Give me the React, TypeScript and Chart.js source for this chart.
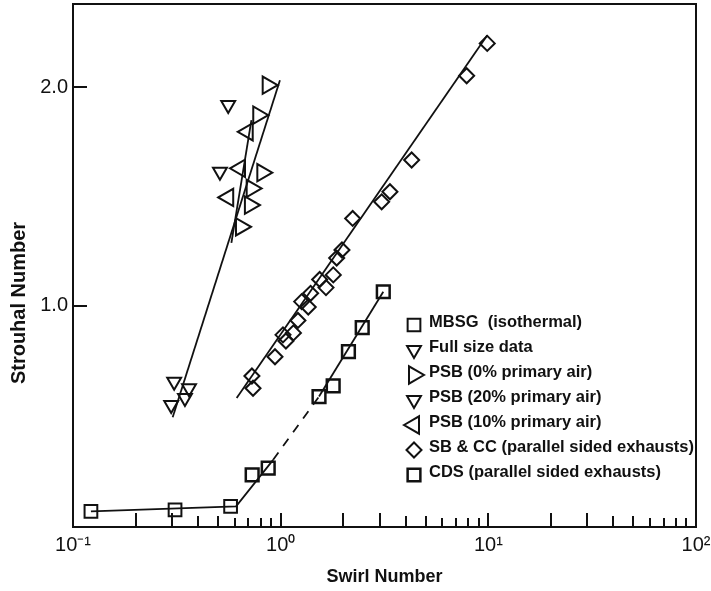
import React, { useEffect, useRef } from 'react';
import { Chart, registerables } from 'chart.js';
import { drawPoint } from 'chart.js/helpers';

Chart.register(...registerables);

// ---- data ----
const mbsgX = [0.122, 0.31, 0.574];
const mbsgY = [0.061, 0.068, 0.084];

const fullSizeX = [0.307, 0.297, 0.362, 0.346];
const fullSizeY = [0.654, 0.548, 0.624, 0.579];

const psb0X = [0.866, 0.78, 0.816, 0.725, 0.711, 0.644];
const psb0Y = [2.009, 1.872, 1.609, 1.537, 1.461, 1.362];

const psb20X = [0.559, 0.51];
const psb20Y = [1.918, 1.613];

const psb10X = [0.694, 0.637, 0.559];
const psb10Y = [1.796, 1.629, 1.496];

const sbccX = [0.727, 0.736, 0.939, 1.026, 1.06, 1.152, 1.211, 1.262, 1.358, 1.394, 1.541, 1.653, 1.792, 1.861, 1.973, 2.222, 3.064, 3.359, 4.273, 7.864, 9.88];
const sbccY = [0.68, 0.624, 0.768, 0.868, 0.84, 0.877, 0.934, 1.02, 0.995, 1.058, 1.121, 1.084, 1.142, 1.219, 1.256, 1.4, 1.476, 1.522, 1.667, 2.052, 2.2];

const cdsX = [0.729, 0.871, 1.53, 1.79, 2.12, 2.47, 3.12];
const cdsY = [0.228, 0.259, 0.586, 0.635, 0.791, 0.901, 1.065];

// fitted lines
const fitTriLongX = [0.302, 0.992];
const fitTriLongY = [0.492, 2.032];
const fitTriShortX = [0.579, 0.723];
const fitTriShortY = [1.288, 1.849];
const fitDiamondX = [0.614, 9.88];
const fitDiamondY = [0.579, 2.237];
const fitSquareX = [0.122, 0.61, 0.92, 1.53, 3.12];
const fitSquareY = [0.061, 0.084, 0.297, 0.586, 1.065];
const fitSquareDashedSegment = 2;

const xTickValues = [0.1, 1, 10, 100];
const xTickLabels = ['10\u207B\u00B9', '10\u2070', '10\u00B9', '10\u00B2'];
const yTickValues = [1, 2];
const yTickLabels = ['1.0', '2.0'];

const seriesLabels = [
  'MBSG  (isothermal)',
  'Full size data',
  'PSB (0% primary air)',
  'PSB (20% primary air)',
  'PSB (10% primary air)',
  'SB & CC (parallel sided exhausts)',
  'CDS (parallel sided exhausts)',
];

const xTitle = 'Swirl Number';
const yTitle = 'Strouhal Number';

const zip = (xs: number[], ys: number[]) => xs.map((x, i) => ({ x, y: ys[i] }));

const FONT = "'Liberation Sans', Arial, Helvetica, sans-serif";

type MarkerStyle = { pointStyle: string; rotation: number; radius: number; lw: number };
const markerStyles: MarkerStyle[] = [
  { pointStyle: 'rect', rotation: 0, radius: 9, lw: 2 },
  { pointStyle: 'triangle', rotation: 180, radius: 8, lw: 2 },
  { pointStyle: 'triangle', rotation: 90, radius: 10, lw: 2 },
  { pointStyle: 'triangle', rotation: 180, radius: 8, lw: 2 },
  { pointStyle: 'triangle', rotation: 270, radius: 10, lw: 2 },
  { pointStyle: 'rectRot', rotation: 0, radius: 7.5, lw: 2 },
  { pointStyle: 'rect', rotation: 0, radius: 9, lw: 2.5 },
];

const frameAndTicks = {
  id: 'frameAndTicks',
  afterDraw(chart: any) {
    const { ctx, chartArea: a, scales } = chart;
    const xs = scales.x;
    const ys = scales.y;
    ctx.save();
    ctx.strokeStyle = '#111';
    ctx.lineWidth = 2;
    ctx.strokeRect(a.left, a.top, a.right - a.left, a.bottom - a.top);
    ctx.beginPath();
    for (let k = -1; k <= 1; k++) {
      for (let m = 1; m <= 9; m++) {
        if (k === -1 && m === 1) continue;
        const v = m * Math.pow(10, k);
        const px = Math.round(xs.getPixelForValue(v));
        const len = m <= 3 ? 14 : m <= 5 ? 11 : 9;
        ctx.moveTo(px, a.bottom);
        ctx.lineTo(px, a.bottom - len);
      }
    }
    yTickValues.forEach((v) => {
      const py = Math.round(ys.getPixelForValue(v));
      ctx.moveTo(a.left, py);
      ctx.lineTo(a.left + 14, py);
    });
    ctx.stroke();

    // y axis title
    ctx.fillStyle = '#111';
    ctx.font = `bold 20px ${FONT}`;
    ctx.textAlign = 'center';
    ctx.textBaseline = 'middle';
    ctx.translate(19, 303);
    ctx.rotate(-Math.PI / 2);
    ctx.fillText(yTitle, 0, 0);
    ctx.restore();
  },
};

const customLegend = {
  id: 'customLegend',
  afterDraw(chart: any) {
    const { ctx } = chart;
    ctx.save();
    seriesLabels.forEach((label, i) => {
      const st = markerStyles[i];
      const my = 325 + i * 25;
      ctx.strokeStyle = '#111';
      ctx.fillStyle = 'rgba(0,0,0,0)';
      ctx.lineWidth = st.lw;
      drawPoint(ctx, { pointStyle: st.pointStyle as any, rotation: st.rotation, radius: st.radius, borderWidth: st.lw }, 414, my);
      ctx.fillStyle = '#111';
      ctx.font = `bold 16.5px ${FONT}`;
      ctx.textAlign = 'left';
      ctx.textBaseline = 'middle';
      ctx.fillText(label, 429, my - 3);
    });
    ctx.restore();
  },
};

export default function App() {
  const ref = useRef<HTMLCanvasElement | null>(null);
  useEffect(() => {
    if (!ref.current) return;
    Chart.defaults.font.family = FONT;
    const markerSets = [
      zip(mbsgX, mbsgY),
      zip(fullSizeX, fullSizeY),
      zip(psb0X, psb0Y),
      zip(psb20X, psb20Y),
      zip(psb10X, psb10Y),
      zip(sbccX, sbccY),
      zip(cdsX, cdsY),
    ];
    const markerDatasets = markerSets.map((d, i) => ({
      label: seriesLabels[i],
      data: d,
      showLine: false,
      pointStyle: markerStyles[i].pointStyle,
      rotation: markerStyles[i].rotation,
      pointRadius: markerStyles[i].radius,
      pointHoverRadius: markerStyles[i].radius,
      pointBorderWidth: markerStyles[i].lw,
      pointBorderColor: '#111',
      pointBackgroundColor: 'rgba(0,0,0,0)',
      clip: false as any,
    }));
    const lineDs = (xs: number[], ys: number[], extra: any = {}) => ({
      label: '',
      data: zip(xs, ys),
      showLine: true,
      pointRadius: 0,
      borderColor: '#111',
      borderWidth: 1.8,
      fill: false,
      ...extra,
    });
    const chart = new Chart(ref.current, {
      type: 'scatter',
      data: {
        datasets: [
          lineDs(fitTriLongX, fitTriLongY),
          lineDs(fitTriShortX, fitTriShortY),
          lineDs(fitDiamondX, fitDiamondY),
          lineDs(fitSquareX, fitSquareY, {
            segment: {
              borderDash: (c: any) => (c.p0DataIndex === fitSquareDashedSegment ? [9, 8] : undefined),
            },
          }),
          ...markerDatasets,
        ] as any,
      },
      plugins: [frameAndTicks, customLegend],
      options: {
        animation: false,
        responsive: false,
        devicePixelRatio: 1,
        layout: { autoPadding: false, padding: { top: 4, right: 15, left: 0, bottom: 0 } },
        plugins: { legend: { display: false }, tooltip: { enabled: false } },
        scales: {
          x: {
            type: 'logarithmic',
            min: 0.1,
            max: 100,
            position: 'bottom',
            grid: { display: false, drawTicks: false },
            border: { display: false },
            afterBuildTicks: (s: any) => {
              s.ticks = xTickValues.map((v) => ({ value: v }));
            },
            afterFit: (s: any) => {
              s.height = 64;
              s.paddingLeft = 0;
              s.paddingRight = 0;
            },
            ticks: {
              autoSkip: false,
              maxRotation: 0,
              padding: 6,
              color: '#111',
              font: { size: 20 },
              callback: (v: any) => {
                const i = xTickValues.findIndex((t) => Math.abs(t - v) < 1e-9);
                return i >= 0 ? xTickLabels[i] : '';
              },
            },
            title: {
              display: true,
              text: xTitle,
              color: '#111',
              font: { size: 18, weight: 'bold' },
              padding: { top: 0, bottom: 3 },
            },
          },
          y: {
            type: 'linear',
            min: -0.01,
            max: 2.38,
            grid: { display: false, drawTicks: false },
            border: { display: false },
            afterBuildTicks: (s: any) => {
              s.ticks = yTickValues.map((v) => ({ value: v }));
            },
            afterFit: (s: any) => {
              s.width = 73;
              s.paddingTop = 0;
              s.paddingBottom = 0;
            },
            ticks: {
              padding: 5,
              color: '#111',
              font: { size: 20 },
              callback: (v: any) => {
                const i = yTickValues.findIndex((t) => Math.abs(t - v) < 1e-9);
                return i >= 0 ? yTickLabels[i] : '';
              },
            },
          },
        },
      } as any,
    });
    return () => chart.destroy();
  }, []);
  return (
    <div style={{ position: 'fixed', left: 0, top: 0, width: 711, height: 591, background: '#fff' }}>
      <canvas ref={ref} width={711} height={591} />
    </div>
  );
}
